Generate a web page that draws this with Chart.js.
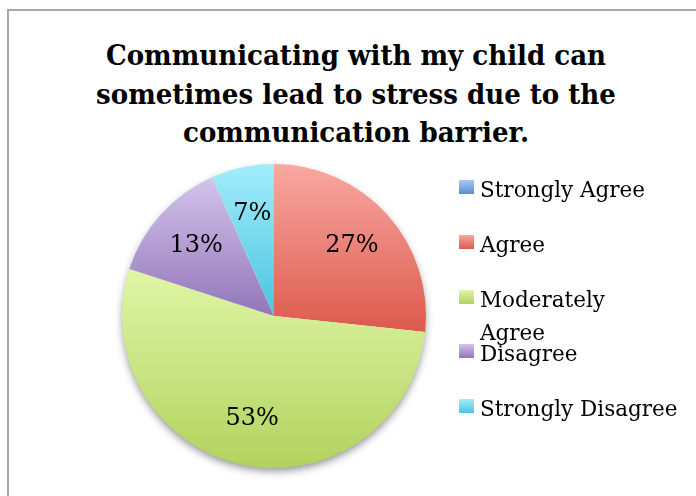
<!DOCTYPE html>
<html>
<head>
<meta charset="utf-8">
<script src="https://cdn.jsdelivr.net/npm/chart.js@4.4.0/dist/chart.umd.min.js"></script>
<style>
  html, body { margin: 0; padding: 0; background: #fff; overflow: hidden; }
  #pagina { position: relative; width: 696px; height: 496px; overflow: hidden; }
  #moldura {
    position: absolute; left: 7px; top: 9px; width: 730px; height: 530px;
    border-left: 2px solid #a6a6a6; border-top: 2px solid #a6a6a6;
  }
  #titulo {
    position: absolute; left: 0; top: 36px; width: 712px;
    text-align: center; font: bold 28.5px "DejaVu Serif"; line-height: 38.5px;
    color: #000; transform: scaleX(0.915);
  }
  #grafico { position: absolute; left: 0; top: 0; width: 696px; height: 496px; }
  #legenda { position: absolute; left: 459px; top: 173px; }
  .item { display: flex; align-items: flex-start; height: 54.8px; }
  .caixa { width: 15px; height: 14px; margin-top: 7px; margin-right: 6px; flex: none; }
  .texto { font: 21.5px "DejaVu Serif"; line-height: 33px; color: #000; white-space: nowrap; }
</style>
</head>
<body>
<div id="pagina">
  <div id="moldura"></div>
  <div id="titulo">Communicating with my child can<br>sometimes lead to stress due to the<br>communication barrier.</div>
  <div id="grafico"><canvas id="pizza"></canvas></div>
  <div id="legenda"></div>
</div>
<script>
// categorias e respostas (15 pais)
const categorias = ['Strongly Agree', 'Agree', ['Moderately', 'Agree'], 'Disagree', 'Strongly Disagree'];
const respostas = [0, 4, 8, 2, 1];

// cores de cada fatia: [topo claro, base escura]
const coresFatias = [
  ['#a9c9f2', '#5a8ecf'],
  ['#f9a8a2', '#dc5a4d'],
  ['#e0f6a6', '#b2d25e'],
  ['#d5c3eb', '#9176b9'],
  ['#a3edfb', '#4bc4de'],
];

const totalRespostas = respostas.reduce((a, b) => a + b, 0);

// degradê vertical ocupando só a altura da fatia
function gradienteFatia(context) {
  const i = context.dataIndex;
  const chart = context.chart;
  const area = chart.chartArea;
  const cor = coresFatias[i];
  if (!area || !respostas[i]) return cor[1];
  const controller = chart.getDatasetMeta(0).controller;
  const r = controller.outerRadius || Math.min(area.width, area.height) / 2;
  const cy = (area.top + area.bottom) / 2 + (controller.offsetY || 0);
  const antes = respostas.slice(0, i).reduce((a, b) => a + b, 0);
  const a0 = -Math.PI / 2 + 2 * Math.PI * antes / totalRespostas;
  const a1 = a0 + 2 * Math.PI * respostas[i] / totalRespostas;
  const ys = [cy, cy + r * Math.sin(a0), cy + r * Math.sin(a1)];
  [-Math.PI / 2, Math.PI / 2, 3 * Math.PI / 2].forEach(t => {
    if (t >= a0 && t <= a1) ys.push(cy + r * Math.sin(t));
  });
  const y0 = Math.min(...ys);
  const y1 = Math.max(...ys);
  if (y1 - y0 < 1) return cor[1];
  const g = chart.ctx.createLinearGradient(0, y0, 0, y1);
  g.addColorStop(0, cor[0]);
  g.addColorStop(1, cor[1]);
  return g;
}

// sombra suave por baixo da pizza
const sombraPizza = {
  id: 'sombraPizza',
  beforeDatasetsDraw(chart) {
    const arc = chart.getDatasetMeta(0).data[0];
    if (!arc) return;
    const p = arc.getProps(['x', 'y', 'outerRadius'], true);
    const ctx = chart.ctx;
    ctx.save();
    ctx.shadowColor = 'rgba(0, 0, 0, 0.45)';
    ctx.shadowBlur = 9;
    ctx.shadowOffsetY = 4;
    ctx.beginPath();
    ctx.arc(p.x, p.y, p.outerRadius - 1, 0, Math.PI * 2);
    ctx.fillStyle = '#fff';
    ctx.fill();
    ctx.restore();
  }
};

// percentuais dentro das fatias
const rotulosPercentuais = {
  id: 'rotulosPercentuais',
  afterDatasetsDraw(chart) {
    const ctx = chart.ctx;
    chart.getDatasetMeta(0).data.forEach((arc, i) => {
      const v = respostas[i];
      if (!v) return;
      const p = arc.getProps(['x', 'y', 'startAngle', 'endAngle', 'outerRadius'], true);
      const meio = (p.startAngle + p.endAngle) / 2;
      const d = p.outerRadius * 0.69;
      ctx.save();
      ctx.font = '24px "DejaVu Serif"';
      ctx.fillStyle = '#000';
      ctx.textAlign = 'center';
      ctx.textBaseline = 'middle';
      ctx.fillText(Math.round(v * 100 / totalRespostas) + '%', p.x + Math.cos(meio) * d, p.y + Math.sin(meio) * d);
      ctx.restore();
    });
  }
};

const ctx = document.getElementById('pizza').getContext('2d');
const myChart = new Chart(ctx, {
  type: 'pie',
  data: {
    labels: categorias,
    datasets: [{
      data: respostas,
      backgroundColor: gradienteFatia,
      borderWidth: 0,
      hoverBorderWidth: 0,
      hoverOffset: 0,
    }],
  },
  options: {
    responsive: true,
    maintainAspectRatio: false,
    animation: false,
    events: [],
    layout: {
      padding: { left: 122, right: 270, top: 164, bottom: 28 },
    },
    plugins: {
      legend: { display: false },
      tooltip: { enabled: false },
      title: { display: false },
    },
  },
  plugins: [sombraPizza, rotulosPercentuais],
});

// LEGENDA
const legenda = document.getElementById('legenda');
categorias.forEach((nome, i) => {
  const item = document.createElement('div');
  item.className = 'item';
  const caixa = document.createElement('span');
  caixa.className = 'caixa';
  caixa.style.background = 'linear-gradient(' + coresFatias[i][0] + ', ' + coresFatias[i][1] + ')';
  const texto = document.createElement('span');
  texto.className = 'texto';
  texto.innerHTML = [].concat(nome).join('<br>');
  item.appendChild(caixa);
  item.appendChild(texto);
  legenda.appendChild(item);
});
</script>
</body>
</html>
